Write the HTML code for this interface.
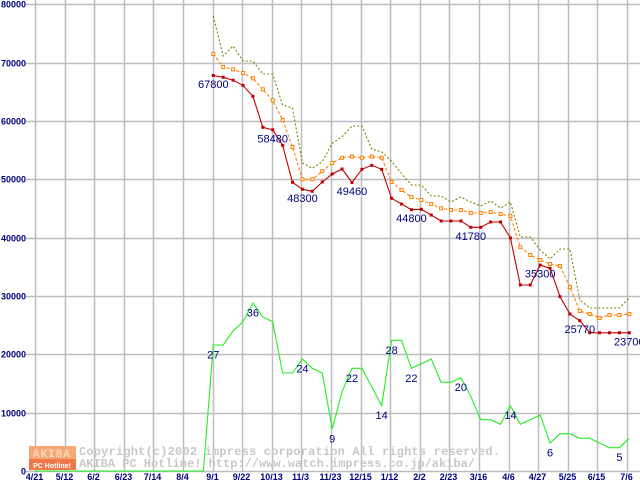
<!DOCTYPE html>
<html><head><meta charset="utf-8">
<style>
html,body{margin:0;padding:0;background:#fff;}
svg{display:block;}
.yt{font:bold 9px "Liberation Sans",sans-serif;fill:#000080;}
.xt{font:bold 9px "Liberation Sans",sans-serif;fill:#000080;}
.lb{font:11px "Liberation Sans",sans-serif;fill:#000080;}
.wm{font:bold 12px "Liberation Mono",monospace;fill:#c8c8c8;}
</style></head>
<body>
<svg id="chart" width="640" height="480" viewBox="0 0 640 480" xmlns="http://www.w3.org/2000/svg">
<g id="grid"></g>
<g id="axes"></g>
<g id="watermark">
  <rect x="29" y="446" width="47" height="24" fill="#f8a878"/>
  <rect x="29" y="459" width="47" height="11" fill="#f07848"/>
  <text x="52" y="457" text-anchor="middle" style="font:bold 11px 'Liberation Mono',monospace;fill:#fcd8b8;letter-spacing:1px">AKIBA</text>
  <text x="52" y="468" text-anchor="middle" style="font:bold 7px 'Liberation Sans',sans-serif;fill:#fff">PC Hotline!</text>
  <text class="wm" x="79" y="455" textLength="421">Copyright(c)2002 impress corporation All rights reserved.</text>
  <text class="wm" x="79" y="467" textLength="396">AKIBA PC Hotline! http://www.watch.impress.co.jp/akiba/</text>
</g>
<g id="series"></g>
<g id="labels"></g>
</svg>
<script>
const xTickLabels = ["4/21","5/12","6/2","6/23","7/14","8/4","9/1","9/22","10/13","11/3","11/23","12/15","1/12","2/2","2/23","3/16","4/6","4/27","5/25","6/15","7/6"];
const yTicks = [0,10000,20000,30000,40000,50000,60000,70000,80000];
const minPrice = [67800,67500,67000,66100,64240,58920,58480,55840,49490,48300,47950,49550,50920,51770,49460,51720,52400,51720,46750,45770,44800,44860,43890,42860,42860,42860,41780,41780,42690,42690,39950,31890,31890,35300,34750,29890,26920,25770,23710,23700,23700,23700,23700];
const avgPrice = [71490,69260,68860,68230,67320,65430,63550,60170,55540,50010,50010,51400,52800,53700,53900,53700,53900,53700,49550,48170,46970,46460,45770,45030,44740,44740,44230,44230,44400,44060,43720,38350,37030,36170,35490,35150,31540,27430,26920,26230,26740,26740,26920];
const maxPrice = [78000,71140,72860,70290,70290,68060,68060,62740,62230,52800,51890,53030,56180,57310,59140,59140,55150,54740,53090,50970,49030,49030,47140,47140,46110,46970,46110,45430,46290,45090,46110,40110,40110,37890,36340,38060,38060,29320,27950,27950,27950,27950,29660];
const shopCount = [27,27,30,32,36,33,32,21,21,24,22,21,9,17,22,22,18,14,28,28,22,23,24,19,19,20,16,11,11,10,14,10,11,12,6,8,8,7,7,6,5,5,7];
const priceLabelIdx = [0,6,9,14,20,26,33,37,42];
const countLabelIdx = [0,4,9,12,14,17,18,20,25,30,34,41];
const countScale = 800;

const NS="http://www.w3.org/2000/svg";
const X0=213.3, DX=416/42, TX0=35, TDX=29.6;
function xs(i){return X0+i*DX;}
function ys(v){return 471-v*0.0058333;}
function mk(tag,attrs,parent){const e=document.createElementNS(NS,tag);for(const k in attrs)e.setAttribute(k,attrs[k]);parent.appendChild(e);return e;}
const grid=document.getElementById('grid'), axes=document.getElementById('axes'), ser=document.getElementById('series'), lab=document.getElementById('labels');

yTicks.forEach(v=>{
  const y=Math.round(ys(v))+0.5;
  const l=mk('line',{x1:26,x2:640,y1:y,y2:y,stroke:'#bdbdbd','stroke-width':1.5},grid);
  
  
  const t=mk('text',{x:26,y:y+3,'text-anchor':'end',class:'yt'},axes);
  t.textContent=String(v);
  
  
});
xTickLabels.forEach((s,k)=>{
  const x=Math.round(TX0+TDX*k)+0.5;
  const l=mk('line',{x1:x,x2:x,y1:0,y2:471,stroke:'#bdbdbd','stroke-width':1.5},grid);
  
  
  const t=mk('text',{x:x-1,y:480,'text-anchor':'middle',class:'xt'},axes);
  t.textContent=s;
  
  
});

function pts(arr,scale){return arr.map((v,i)=>xs(i).toFixed(1)+','+ys(v*scale).toFixed(1)).join(' ');}
let gp=TX0+','+471+' '+(X0-DX).toFixed(1)+',471 '+pts(shopCount,countScale);
const g=mk('polyline',{points:gp,fill:'none',stroke:'#22ee22','stroke-width':1.1},ser);


const mx=mk('polyline',{points:pts(maxPrice,1),fill:'none',stroke:'#808000','stroke-width':1.1,'stroke-dasharray':'2,2'},ser);


const av=mk('polyline',{points:pts(avgPrice,1),fill:'none',stroke:'#ff8000','stroke-width':1.1,'stroke-dasharray':'3,2'},ser);


avgPrice.forEach((v,i)=>{
  const r=mk('rect',{x:xs(i)-1.5,y:ys(v)-1.5,width:3,height:3,fill:'#fff',stroke:'#ff8000','stroke-width':1},ser);
  
  
});
const mn=mk('polyline',{points:pts(minPrice,1),fill:'none',stroke:'#c00000','stroke-width':1.1},ser);


minPrice.forEach((v,i)=>{
  const r=mk('rect',{x:xs(i)-1.5,y:ys(v)-1.5,width:3,height:3,fill:'#c00000'},ser);
  
  
});
priceLabelIdx.forEach(i=>{
  const t=mk('text',{x:xs(i),y:ys(minPrice[i])+12.5,'text-anchor':'middle',class:'lb'},lab);
  t.textContent=String(minPrice[i]);
  
  
});
countLabelIdx.forEach(i=>{
  const t=mk('text',{x:xs(i),y:ys(shopCount[i]*countScale)+13.5,'text-anchor':'middle',class:'lb'},lab);
  t.textContent=String(shopCount[i]);
  
  
});
</script>
</body></html>
